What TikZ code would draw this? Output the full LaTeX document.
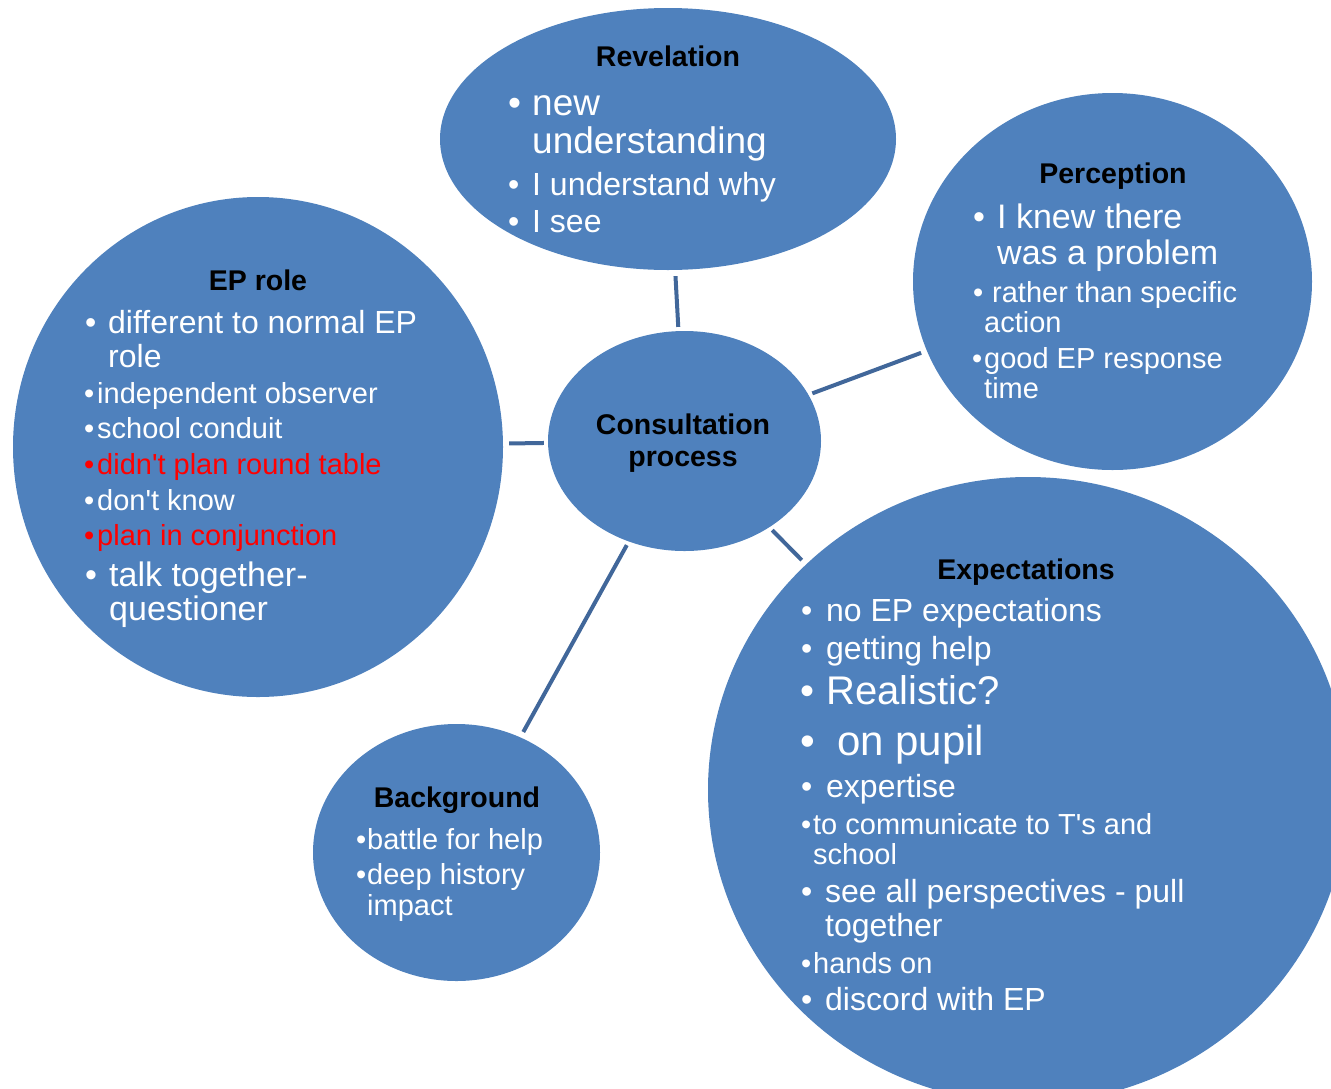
\documentclass[tikz,border=0pt]{standalone}
\usepackage{fontspec}
\setmainfont{Liberation Sans}
\usetikzlibrary{shapes.geometric}

\definecolor{bubblefill}{HTML}{4F81BD}
\definecolor{linkcol}{HTML}{41679A}
\definecolor{hot}{HTML}{FF0000}

\newcommand\fsz[1]{\fontsize{#1}{#1}\selectfont}
% bullet in a box of fixed width, then the item text
\newcommand\bulitem[2]{\makebox[#1][l]{\textbullet}#2}
\newcommand\ap{\textquotesingle}

\tikzset{
  bubble/.style={ellipse, fill=bubblefill, draw=none, inner sep=0pt},
  link/.style={draw=linkcol, line width=4pt, shorten <=4pt, shorten >=6pt},
  ttl/.style={anchor=base, inner sep=0pt, font=\fsz{28.5pt}\bfseries, text=black},
  item/.style={anchor=base west, inner sep=0pt, text=white},
  hotitem/.style={item, text=hot},
}

\begin{document}
\begin{tikzpicture}[x=1pt, y=-1pt]
\useasboundingbox (0,0) rectangle (1331,1088);
\clip (0,0) rectangle (1331,1088);

% bubbles
\node[bubble, minimum width=273pt, minimum height=220pt] (cons) at (684.5,441) {};
\node[bubble, minimum width=456pt, minimum height=262pt] (rev)  at (668,139) {};
\node[bubble, minimum width=399pt, minimum height=377pt] (perc) at (1112.5,281.5) {};
\node[bubble, minimum width=490pt, minimum height=500pt] (eprole) at (258,447) {};
\node[bubble, minimum width=640pt, minimum height=626pt] (expt) at (1028,790) {};
\node[bubble, minimum width=287pt, minimum height=257pt] (back) at (456.5,852.5) {};

% connectors from the centre bubble
\draw[link] (cons) -- (rev);
\draw[link] (cons) -- (perc);
\draw[link] (cons) -- (eprole);
\draw[link] (cons) -- (expt);
\draw[link] (cons) -- (back);

% centre
\node[ttl] (consA) at (683,434) {Consultation};
\node[ttl] (consB) at (683,466) {process};

% Revelation
\node[ttl] (revT) at (668,66) {Revelation};
\node[item, font=\fsz{37pt}] (rev1) at (508,115) {\bulitem{24pt}{new}};
\node[item, font=\fsz{37pt}] (rev1b) at (532,153) {understanding};
\node[item, font=\fsz{32pt}] (rev2) at (508,195) {\bulitem{24pt}{I understand why}};
\node[item, font=\fsz{32pt}] (rev3) at (508,232) {\bulitem{24pt}{I see}};

% Perception
\node[ttl] (percT) at (1113,183) {Perception};
\node[item, font=\fsz{34pt}] (perc1) at (973,228) {\bulitem{24pt}{I knew there}};
\node[item, font=\fsz{34pt}] (perc1b) at (997,264) {was a problem};
\node[item, font=\fsz{29pt}] (perc2) at (973,302) {\bulitem{19pt}{rather than specific}};
\node[item, font=\fsz{29pt}] (perc2b) at (984,332) {action};
\node[item, font=\fsz{29pt}] (perc3) at (972,368) {\bulitem{12pt}{good EP response}};
\node[item, font=\fsz{29pt}] (perc3b) at (984,398) {time};

% EP role
\node[ttl] (epT) at (258,290) {EP role};
\node[item, font=\fsz{32pt}] (ep1) at (85,333) {\bulitem{23pt}{different to normal EP}};
\node[item, font=\fsz{32pt}] (ep1b) at (108,367) {role};
\node[item, font=\fsz{29pt}] (ep2) at (84,403) {\bulitem{13pt}{independent observer}};
\node[item, font=\fsz{29pt}] (ep3) at (84,438) {\bulitem{13pt}{school conduit}};
\node[hotitem, font=\fsz{29pt}] (ep4) at (84,474) {\bulitem{13pt}{didn\ap t plan round table}};
\node[item, font=\fsz{29pt}] (ep5) at (84,510) {\bulitem{13pt}{don\ap t know}};
\node[hotitem, font=\fsz{29pt}] (ep6) at (84,545) {\bulitem{13pt}{plan in conjunction}};
\node[item, font=\fsz{34pt}] (ep7) at (85,586) {\bulitem{24pt}{talk together-}};
\node[item, font=\fsz{34pt}] (ep7b) at (109,620) {questioner};

% Expectations
\node[ttl] (exT) at (1026,579) {Expectations};
\node[item, font=\fsz{32pt}] (ex1) at (801,621) {\bulitem{25pt}{no EP expectations}};
\node[item, font=\fsz{32pt}] (ex2) at (801,659) {\bulitem{25pt}{getting help}};
\node[item, font=\fsz{40pt}] (ex3) at (800,704) {\bulitem{26pt}{Realistic?}};
\node[item, font=\fsz{42pt}] (ex4) at (800,755) {\bulitem{37pt}{on pupil}};
\node[item, font=\fsz{32pt}] (ex5) at (801,797) {\bulitem{25pt}{expertise}};
\node[item, font=\fsz{29pt}] (ex6) at (801,834) {\bulitem{12pt}{to communicate to T\ap s and}};
\node[item, font=\fsz{29pt}] (ex6b) at (813,864) {school};
\node[item, font=\fsz{32pt}] (ex7) at (801,902) {\bulitem{24pt}{see all perspectives - pull}};
\node[item, font=\fsz{32pt}] (ex7b) at (825,936) {together};
\node[item, font=\fsz{29pt}] (ex8) at (801,973) {\bulitem{12pt}{hands on}};
\node[item, font=\fsz{32pt}] (ex9) at (801,1010) {\bulitem{24pt}{discord with EP}};

% Background
\node[ttl] (bgT) at (457,807) {Background};
\node[item, font=\fsz{29pt}] (bg1) at (356,849) {\bulitem{11pt}{battle for help}};
\node[item, font=\fsz{29pt}] (bg2) at (356,884) {\bulitem{11pt}{deep history}};
\node[item, font=\fsz{29pt}] (bg2b) at (367,915) {impact};
\end{tikzpicture}
\end{document}
